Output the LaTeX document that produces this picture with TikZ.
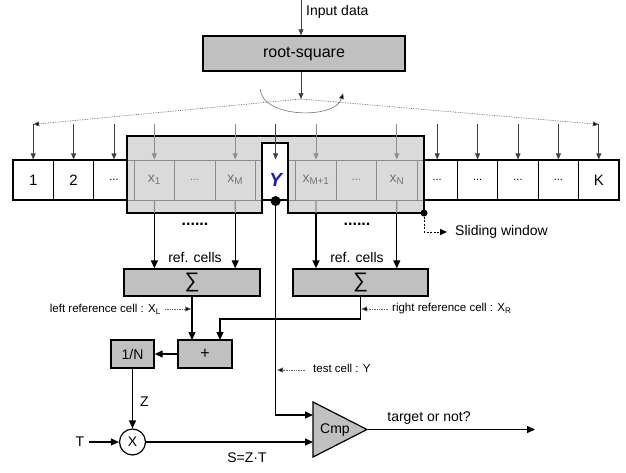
\documentclass[tikz,border=0pt]{standalone}
\usepackage{fontspec}
\usepackage{graphicx}
\setmainfont{Liberation Sans}
\usetikzlibrary{arrows.meta}
\definecolor{boxgray}{RGB}{192,192,192}
\definecolor{wingray}{RGB}{218,218,218}
\definecolor{cellline}{RGB}{140,140,140}
\definecolor{innertext}{RGB}{115,115,115}
\definecolor{yblue}{RGB}{25,25,200}
\begin{document}
\begin{tikzpicture}[x=1pt,y=-1pt,
  font=\fontsize{14}{16}\selectfont,
  box/.style={draw,line width=1.3pt,fill=boxgray,inner sep=0pt},
  cellbox/.style={draw,line width=1.2pt,fill=white,minimum width=40.4pt,minimum height=40pt,inner sep=0pt},
  conn/.style={line width=1.3pt,-{Triangle[length=8pt,width=7pt]}},
  thinarr/.style={line width=0.7pt,draw=black!75,-{Triangle[length=6pt,width=5pt]}},
  grayarr/.style={line width=0.7pt,draw=cellline,-{Triangle[length=6pt,width=5pt,fill=cellline]}},
  dotarr/.style={densely dotted,line width=0.7pt,draw=black!60,-{Triangle[length=6pt,width=5pt,fill=black]}},
  note/.style={font=\fontsize{11.5}{13}\selectfont,inner sep=0pt},
  inner/.style={text=innertext,inner sep=0pt}
]
\useasboundingbox (0,0) rectangle (626,472);

% cells
\foreach \i in {1,...,15}
  \node[cellbox] (c\i) at ({33.2+40.4*(\i-1)},180) {};

% sliding window
\fill[wingray] (127,136) -- (424,136) -- (424,213) -- (288,213) -- (288,143)
  -- (262,143) -- (262,213) -- (127,213) -- cycle;
\draw[cellline,line width=1pt] (127,160) -- (262,160) (127,200) -- (262,200)
  (288,160) -- (424,160) (288,200) -- (424,200);
\foreach \x in {134.2,174.6,215,255.4,295.8,336.2,376.6,417}
  \draw[cellline,line width=1pt] (\x,160) -- (\x,200);
\node[draw,line width=1.2pt,fill=white,minimum width=26pt,minimum height=57pt,inner sep=0pt] (ybox) at (275,171.5) {};
\draw[line width=1.4pt] (127,136) -- (424,136) -- (424,213) -- (288,213) -- (288,143)
  -- (262,143) -- (262,213) -- (127,213) -- cycle;

% cell texts
\node[inner sep=0pt,font=\fontsize{15}{16}\selectfont] (t1) at (c1) {1};
\node[inner sep=0pt,font=\fontsize{15}{16}\selectfont] (t2) at (c2) {2};
\node[inner sep=0pt,font=\fontsize{11}{12}\selectfont] (t3) at (c3) {...};
\node[inner] (t4) at (c4) {x\textsubscript{1}};
\node[inner,font=\fontsize{11}{12}\selectfont] (t5) at (c5) {...};
\node[inner] (t6) at (c6) {x\textsubscript{M}};
\node[inner sep=0pt,text=yblue,font=\fontsize{19}{20}\selectfont\bfseries\itshape] (t7) at (c7) {Y};
\node[inner] (t8) at (c8) {x\textsubscript{M+1}};
\node[inner,font=\fontsize{11}{12}\selectfont] (t9) at (c9) {...};
\node[inner] (t10) at (c10) {x\textsubscript{N}};
\foreach \i in {11,12,13,14}
  \node[inner sep=0pt,font=\fontsize{11}{12}\selectfont] (t\i) at (c\i) {...};
\node[inner sep=0pt,font=\fontsize{15}{16}\selectfont] (t15) at (c15) {K};

% top distribution
\coordinate (in) at (301,0);
\node[box,minimum width=202pt,minimum height=35pt,font=\fontsize{16}{18}\selectfont] (rs) at (304,53.5) {root-square};
\node[anchor=west,inner sep=0pt] (indata) at (306,12) {Input data};
\draw[thinarr] (in) -- (in |- rs.north);
\coordinate (P) at (301,99);
\draw[thinarr] (in |- rs.south) -- (P);
\coordinate (L) at ([yshift=35pt]c1.north);
\coordinate (R) at ([yshift=35pt]c15.north);
\draw[dotarr] (P) -- (L);
\draw[dotarr] (P) -- (R);
\draw[line width=0.6pt,draw=black!55,-{Triangle[length=6pt,width=5pt,fill=black]}]
  (260,89) .. controls (263,119) and (336,119) .. (343,93);
\foreach \i in {1,2,3,7,11,12,13,14,15}
  \draw[thinarr] ([yshift=35pt]c\i.north) -- (c\i.north);
\foreach \i in {4,6,8,10}
  \draw[grayarr] ([yshift=35pt]c\i.north) -- (c\i.north);

% dots on window
\node[circle,fill,minimum size=10pt,inner sep=0pt] (ydot) at (275.6,201) {};
\node[circle,fill,minimum size=7pt,inner sep=0pt] (sdot) at (424,213) {};
\coordinate (swend) at (447,232);
\node[anchor=west,inner sep=0pt] (sw) at (455,232) {Sliding window};
\draw[line width=1pt,dash pattern=on 2pt off 1.6pt,-{Triangle[length=7pt,width=6pt]}] (sdot.center) |- (swend);

\node[font=\fontsize{16}{18}\selectfont\bfseries,inner sep=0pt] (dl) at (195,224) {......};
\node[font=\fontsize{16}{18}\selectfont\bfseries,inner sep=0pt] (dr) at (357,224) {......};

% sum boxes
\node[box,minimum width=136pt,minimum height=27pt] (sL) at (192,282.5) {\scalebox{1.5}{∑}};
\node[box,minimum width=135pt,minimum height=27pt] (sR) at (360.5,282.5) {\scalebox{1.5}{∑}};
\node[inner sep=0pt] (rcl) at (195,257) {ref. cells};
\node[inner sep=0pt] (rcr) at (357,257) {ref. cells};

\foreach \i/\x in {4/154.4,6/235.2,8/316,10/396.8}{
  \coordinate (w\i) at (\x,213);
  \draw[cellline,line width=1.3pt] (c\i.south) -- (w\i);
}
\draw[conn] (w4) -- (w4 |- sL.north);
\draw[conn] (w6) -- (w6 |- sL.north);
\draw[conn] (w8) -- (w8 |- sR.north);
\draw[conn] (w10) -- (w10 |- sR.north);

% adder and 1/N
\node[box,minimum width=54pt,minimum height=28pt,font=\fontsize{16}{18}\selectfont] (plus) at (205,354) {+};
\node[box,minimum width=43pt,minimum height=28pt] (oneN) at (132.5,354) {1/N};
\coordinate (pl) at (192,340);
\coordinate (pr) at (220,340);
\draw[conn] (sL.south) -- (pl);
\draw[conn] (sR.south) |- (220,319) -- (pr);
\draw[conn] (plus.west) -- (oneN.east);

\node[note,anchor=east] (lrc) at (161,309) {left reference cell : X\textsubscript{L}};
\draw[dotarr] (165,309) -- (191.3,309);
\node[note,anchor=west] (rrc) at (392,309) {right reference cell : X\textsubscript{R}};
\draw[dotarr] (388,309) -- (361.2,309);

% multiplier
\node[circle,draw,line width=1.2pt,fill=white,minimum size=26pt,inner sep=0pt] (mul) at (132.5,442) {X};
\draw[conn] (oneN.south) -- (mul.north);
\node[anchor=west,inner sep=0pt] (zl) at (140,402) {Z};
\node[inner sep=0pt] (tl) at (80,442) {T};
\coordinate (tstart) at (89,442);
\draw[conn] (tstart) -- (mul.west);

% comparator
\coordinate (tin1) at (313,415);
\coordinate (tin2) at (313,442);
\coordinate (tout) at (367,429.5);
\draw[line width=1.2pt,fill=boxgray] (313,402) -- (tout) -- (313,457) -- cycle;
\node[inner sep=0pt] (cmp) at (335,430) {Cmp};
\draw[conn] (mul.east) -- (tin2);
\node[inner sep=0pt] (szt) at (247,458) {S=Z·T};
\draw[conn] (ydot.center) |- (tin1);
\node[note,anchor=west] (tcy) at (313,368) {test cell : Y};
\draw[dotarr] (305,370) -- (277,370);
\coordinate (outend) at (535,429.5);
\draw[conn] (tout) -- (outend);
\node[inner sep=0pt] (ton) at (429,418) {target or not?};
\end{tikzpicture}
\end{document}
